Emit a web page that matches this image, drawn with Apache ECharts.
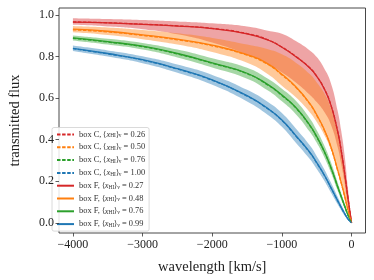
<!DOCTYPE html>
<html><head><meta charset="utf-8">
<script src="https://cdn.jsdelivr.net/npm/echarts@6/dist/echarts.min.js"></script>
<style>html,body{margin:0;padding:0;background:#fff}#c{width:374px;height:280px}</style>
</head><body><div id="c"></div>
<script>
// velocity grid [km/s]
const velocity = [-4000,-3500,-3000,-2500,-2000,-1500,-1200,-1000,-800,-600,-500,-400,-300,-200,-150,-100,-50,0];

// box C mean lines (dashed)
const boxC_026 = [0.967,0.963,0.956,0.948,0.936,0.911,0.881,0.846,0.801,0.746,0.706,0.651,0.571,0.441,0.351,0.241,0.116,0];
const boxC_050 = [0.929,0.919,0.902,0.881,0.852,0.807,0.762,0.712,0.652,0.572,0.517,0.452,0.367,0.252,0.193,0.128,0.059,0];
const boxC_076 = [0.888,0.870,0.848,0.813,0.768,0.718,0.663,0.613,0.553,0.468,0.413,0.348,0.268,0.174,0.127,0.081,0.035,0];
const boxC_100 = [0.838,0.813,0.783,0.740,0.686,0.610,0.548,0.493,0.418,0.338,0.288,0.234,0.171,0.106,0.074,0.044,0.018,0];

// box F mean lines (solid)
const boxF_027 = [0.966,0.962,0.955,0.947,0.935,0.910,0.880,0.845,0.800,0.745,0.705,0.650,0.570,0.440,0.350,0.240,0.115,0];
const boxF_048 = [0.932,0.922,0.905,0.884,0.855,0.810,0.765,0.715,0.655,0.575,0.520,0.455,0.370,0.255,0.195,0.130,0.060,0];
const boxF_076 = [0.890,0.872,0.850,0.815,0.770,0.720,0.665,0.615,0.555,0.470,0.415,0.350,0.270,0.175,0.128,0.082,0.036,0];
const boxF_099 = [0.840,0.815,0.785,0.742,0.688,0.612,0.550,0.495,0.420,0.340,0.290,0.235,0.172,0.107,0.075,0.045,0.018,0];

// scatter bands (upper / lower)
const redUpper    = [0.985,0.981,0.976,0.969,0.960,0.945,0.925,0.910,0.875,0.830,0.798,0.748,0.676,0.540,0.445,0.325,0.160,0];
const redLower    = [0.953,0.945,0.932,0.908,0.868,0.810,0.765,0.724,0.676,0.617,0.581,0.538,0.476,0.365,0.285,0.190,0.080,0];
const orangeUpper = [0.947,0.940,0.928,0.912,0.890,0.858,0.835,0.811,0.771,0.716,0.676,0.628,0.555,0.430,0.340,0.235,0.110,0];
const orangeLower = [0.917,0.904,0.884,0.858,0.822,0.770,0.715,0.660,0.604,0.532,0.485,0.428,0.356,0.254,0.198,0.135,0.063,0];
const greenUpper  = [0.902,0.886,0.866,0.834,0.792,0.746,0.693,0.645,0.587,0.502,0.445,0.378,0.295,0.195,0.144,0.094,0.043,0];
const greenLower  = [0.878,0.858,0.834,0.796,0.748,0.694,0.637,0.585,0.523,0.438,0.385,0.322,0.245,0.155,0.112,0.070,0.029,0];
const blueUpper   = [0.853,0.830,0.802,0.762,0.712,0.640,0.581,0.528,0.454,0.373,0.321,0.263,0.196,0.125,0.089,0.055,0.023,0];
const blueLower   = [0.827,0.800,0.768,0.722,0.664,0.584,0.519,0.462,0.386,0.307,0.259,0.207,0.148,0.089,0.061,0.035,0.013,0];

// legend text pieces
const legendBoxes = ['C','C','C','C','F','F','F','F'];
const legendFractions = ['0.26','0.50','0.76','1.00','0.27','0.48','0.76','0.99'];

const xTicks = [-4000,-3000,-2000,-1000,0];
const yTicks = [0,0.2,0.4,0.6,0.8,1.0];

const colors = {red:'#d62728', orange:'#ff7f0e', green:'#2ca02c', blue:'#1f77b4'};
const bandFill = {red:'rgba(214,39,40,0.42)', orange:'rgba(255,127,14,0.42)', green:'rgba(44,160,44,0.42)', blue:'rgba(31,119,180,0.42)'};

const FONT = 'Liberation Serif';
const SMOOTH = 0.5;
const pair = (ys) => velocity.map((v,i)=>[v, ys[i]]);

// smooth path through pixel points (same idea as ECharts line smoothing)
function smoothSegs(pts, start){
  let d = (start ? 'M' : 'L') + pts[0][0]+','+pts[0][1];
  const n = pts.length;
  const cpA = [], cpB = [];
  for (let i=0;i<n;i++){
    const p = pts[i], pp = pts[Math.max(0,i-1)], pn = pts[Math.min(n-1,i+1)];
    const vx = pn[0]-pp[0], vy = pn[1]-pp[1];
    const d0 = Math.hypot(p[0]-pp[0], p[1]-pp[1]);
    const d1 = Math.hypot(pn[0]-p[0], pn[1]-p[1]);
    const s = d0+d1 || 1;
    cpB[i] = [p[0]-vx*SMOOTH*d0/s, p[1]-vy*SMOOTH*d0/s];
    cpA[i] = [p[0]+vx*SMOOTH*d1/s, p[1]+vy*SMOOTH*d1/s];
  }
  for (let i=0;i<n-1;i++){
    d += 'C'+cpA[i][0]+','+cpA[i][1]+' '+cpB[i+1][0]+','+cpB[i+1][1]+' '+pts[i+1][0]+','+pts[i+1][1];
  }
  return d;
}

function band(key, lower, upper){
  return {
    type:'custom', name:'band-'+key, silent:true, z:1,
    data: velocity.map((v,i)=>[v, lower[i], upper[i]]),
    encode:{x:0, y:[1,2]},
    renderItem: function(params, api){
      if (params.dataIndex !== 0) return;
      const up = velocity.map((v,i)=>api.coord([v, upper[i]]));
      const lo = velocity.map((v,i)=>api.coord([v, lower[i]])).reverse();
      const path = smoothSegs(up, true) + smoothSegs(lo, false) + 'Z';
      return {type:'path', shape:{pathData:path}, style:{fill:bandFill[key], stroke:null}};
    }
  };
}

const names = legendBoxes.map((b,i)=>'box '+b+', x'+i);
const lineData = [boxC_026, boxC_050, boxC_076, boxC_100, boxF_027, boxF_048, boxF_076, boxF_099];
const lineColors = [colors.red, colors.orange, colors.green, colors.blue, colors.red, colors.orange, colors.green, colors.blue];

const series = [band('red', redLower, redUpper), band('orange', orangeLower, orangeUpper),
                band('green', greenLower, greenUpper), band('blue', blueLower, blueUpper)];
for (let i=4;i<8;i++){
  series.push({type:'line', name:names[i], data:pair(lineData[i]), symbol:'none', smooth:SMOOTH, z:3,
    lineStyle:{color:lineColors[i], width:1.3, type:'solid'}, itemStyle:{color:'rgba(0,0,0,0)', borderWidth:0}});
}
for (let i=0;i<4;i++){
  series.push({type:'line', name:names[i], data:pair(lineData[i]), symbol:'none', smooth:SMOOTH, z:4,
    lineStyle:{color:lineColors[i], width:1.3, type:[3.5,1.6]}, itemStyle:{color:'rgba(0,0,0,0)', borderWidth:0}});
}

const chart = echarts.init(document.getElementById('c'), null, {renderer:'canvas'});
chart.setOption({
  animation:false,
  backgroundColor:'#fff',
  grid:{left:48, right:8.5, top:8, bottom:45.3, show:true, borderColor:'#333', borderWidth:0.9, backgroundColor:'transparent'},
  xAxis:{type:'value', min:-4200, max:200,
    name:'wavelength [km/s]', nameLocation:'middle', nameGap:27,
    nameTextStyle:{fontFamily:FONT, fontSize:14.5, color:'#222'},
    axisLine:{show:false, onZero:false}, splitLine:{show:false},
    axisTick:{show:true, length:3.5, inside:false, customValues:xTicks, lineStyle:{color:'#333', width:0.8}},
    axisLabel:{customValues:xTicks, margin:6, fontFamily:FONT, fontSize:12, color:'#222',
      formatter:v=> v<0 ? '\u2212'+Math.abs(v) : String(v)}},
  yAxis:{type:'value', min:-0.049, max:1.034, z:10,
    name:'transmitted flux', nameLocation:'middle', nameGap:36,
    nameTextStyle:{fontFamily:FONT, fontSize:14.5, color:'#222'},
    axisLine:{show:false, onZero:false}, splitLine:{show:false},
    axisTick:{show:true, length:3.5, inside:false, customValues:yTicks, lineStyle:{color:'#333', width:0.8}},
    axisLabel:{customValues:yTicks, margin:5, fontFamily:FONT, fontSize:12, color:'#222',
      formatter:v=> v.toFixed(1)}},
  legend:{show:true, data:names, orient:'vertical', left:52, top:127.5,
    itemWidth:17, itemHeight:8, itemGap:4.8, padding:[3,4,3,4],
    backgroundColor:'rgba(255,255,255,0.85)', borderColor:'#d0d0d0', borderWidth:0.8, borderRadius:2,
    selectedMode:false,
    itemStyle:{opacity:0},
    textStyle:{fontFamily:FONT, fontSize:8.4, color:'#333', lineHeight:8,
      rich:{
        i:{fontFamily:FONT, fontSize:8.4, fontStyle:'italic', color:'#333', lineHeight:8},
        s:{fontFamily:FONT, fontSize:5.4, color:'#333', lineHeight:4, verticalAlign:'bottom'},
        n:{fontFamily:FONT, fontSize:8.4, color:'#333', lineHeight:8}
      }},
    formatter: function(name){
      const i = names.indexOf(name);
      return '{n|box '+legendBoxes[i]+', \u27e8}{i|x}{s|HI}{n|\u27e9}{s|v}{n| = '+legendFractions[i]+'}';
    }
  },
  series: series
});
</script></body></html>
